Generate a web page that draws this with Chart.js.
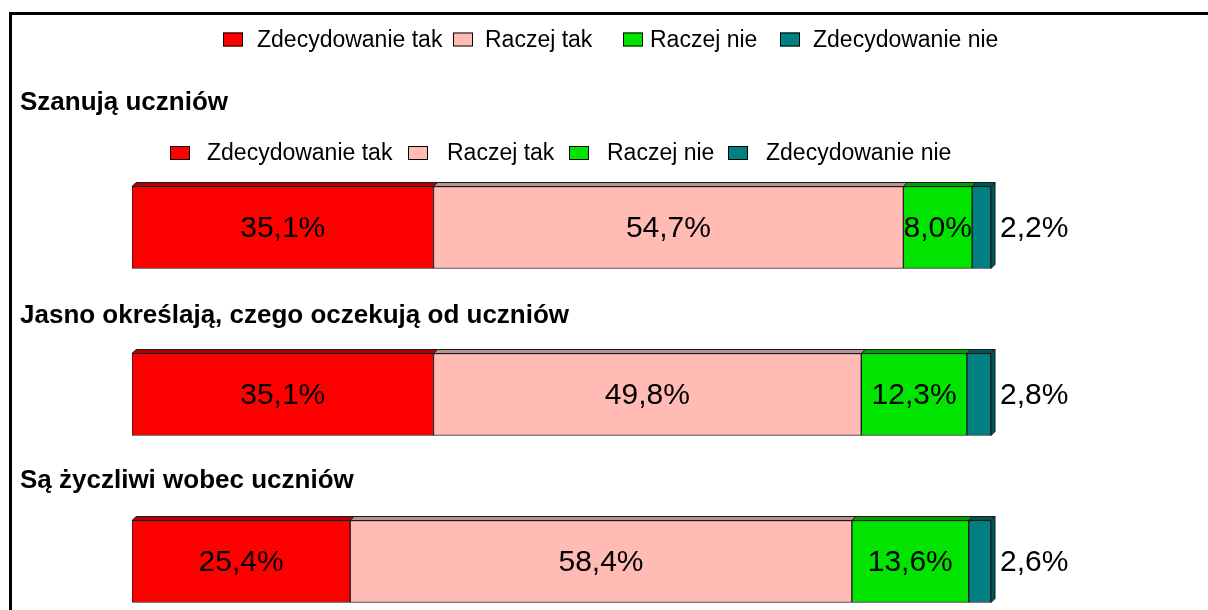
<!DOCTYPE html>
<html lang="pl">
<head>
<meta charset="utf-8">
<title>Nauczyciele</title>
<script src="https://cdn.jsdelivr.net/npm/chart.js@4.4.1/dist/chart.umd.min.js"></script>
<style>
  html, body { margin: 0; padding: 0; background: #fff; overflow: hidden; }
  #wrap { position: relative; width: 1208px; height: 610px; overflow: hidden; }
  #frame { position: absolute; left: 9px; top: 12px; right: -10px; bottom: -10px; border-top: 3px solid #000; border-left: 3px solid #000; pointer-events: none; }
  canvas { position: absolute; left: 0; top: 0; }
</style>
</head>
<body>
<div id="wrap">
  <canvas id="chart" width="1208" height="660"></canvas>
  <div id="frame"></div>
</div>
<script>
(function () {
  const statements = [
    'Szanują uczniów',
    'Jasno określają, czego oczekują od uczniów',
    'Są życzliwi wobec uczniów',
  ];
  const answers = ['Zdecydowanie tak', 'Raczej tak', 'Raczej nie', 'Zdecydowanie nie'];
  const zdecydowanieTak = [35.1, 35.1, 25.4];
  const raczejTak = [54.7, 49.8, 58.4];
  const raczejNie = [8.0, 12.3, 13.6];
  const zdecydowanieNie = [2.2, 2.8, 2.6];

  const FONT = '"Liberation Sans", Arial, Helvetica, sans-serif';
  const fills = ['#ff0000', '#ffbbb4', '#00e400', '#008080'];
  const topFaces = ['#b30000', '#b39591', '#00a000', '#005656'];
  const depth = 4;

  // legend / title placement
  const topLegend = { y: 39.5, boxX: [223, 453, 623, 780], textX: [257, 485, 650, 813] };
  const innerLegend = { y: 153, boxX: [170, 408, 569, 728], textX: [207, 447, 607, 766] };
  const titleY = [103, 316, 481];

  function drawLegend(ctx, spec) {
    ctx.font = `23px ${FONT}`;
    ctx.textBaseline = 'middle';
    ctx.textAlign = 'left';
    ctx.lineWidth = 1;
    answers.forEach((label, i) => {
      ctx.fillStyle = fills[i];
      ctx.fillRect(spec.boxX[i], spec.y - 7, 20, 14);
      ctx.strokeStyle = '#000';
      ctx.strokeRect(spec.boxX[i] + 0.5, spec.y - 6.5, 19, 13);
      ctx.fillStyle = '#000';
      ctx.fillText(label, spec.textX[i], spec.y + 1);
    });
  }

  const decorations = {
    id: 'decorations',
    beforeDraw(chart) {
      const ctx = chart.ctx;
      ctx.save();
      drawLegend(ctx, topLegend);
      drawLegend(ctx, innerLegend);
      ctx.font = `bold 26px ${FONT}`;
      ctx.fillStyle = '#000';
      ctx.textBaseline = 'middle';
      ctx.textAlign = 'left';
      chart.data.labels.forEach((label, i) => {
        ctx.fillText(label, 20, titleY[i]);
      });
      ctx.restore();
    },
    afterDatasetsDraw(chart) {
      const ctx = chart.ctx;
      const last = chart.data.datasets.length - 1;
      ctx.save();
      ctx.lineWidth = 1;
      ctx.strokeStyle = '#1a1a1a';
      chart.data.datasets.forEach((ds, i) => {
        chart.getDatasetMeta(i).data.forEach((bar) => {
          const top = bar.y - bar.height / 2;
          const bottom = bar.y + bar.height / 2;
          ctx.fillStyle = topFaces[i];
          ctx.beginPath();
          ctx.moveTo(bar.base, top);
          ctx.lineTo(bar.base + depth, top - depth);
          ctx.lineTo(bar.x + depth, top - depth);
          ctx.lineTo(bar.x, top);
          ctx.closePath();
          ctx.fill();
          ctx.stroke();
          if (i === last) {
            ctx.beginPath();
            ctx.moveTo(bar.x, top);
            ctx.lineTo(bar.x + depth, top - depth);
            ctx.lineTo(bar.x + depth, bottom - depth);
            ctx.lineTo(bar.x, bottom);
            ctx.closePath();
            ctx.fill();
            ctx.stroke();
          }
        });
      });

      ctx.font = `30px ${FONT}`;
      ctx.fillStyle = '#000';
      ctx.textBaseline = 'middle';
      chart.data.datasets.forEach((ds, i) => {
        chart.getDatasetMeta(i).data.forEach((bar, j) => {
          const text = ds.data[j].toFixed(1).replace('.', ',') + '%';
          if (i === last) {
            ctx.textAlign = 'left';
            ctx.fillText(text, bar.x + depth + 5, bar.y + 1);
          } else {
            ctx.textAlign = 'center';
            ctx.fillText(text, (bar.x + bar.base) / 2, bar.y + 1);
          }
        });
      });
      ctx.restore();
    },
  };

  const series = [zdecydowanieTak, raczejTak, raczejNie, zdecydowanieNie];

  new Chart(document.getElementById('chart'), {
    type: 'bar',
    data: {
      labels: statements,
      datasets: answers.map((name, i) => ({
        label: name,
        data: series[i],
        backgroundColor: fills[i],
        borderColor: '#1a1a1a',
        borderWidth: 1,
        borderSkipped: false,
        barThickness: 82,
      })),
    },
    options: {
      indexAxis: 'y',
      responsive: false,
      animation: false,
      layout: {
        padding: { left: 132, right: 217, top: 144, bottom: 15 },
      },
      plugins: {
        legend: { display: false },
        tooltip: { enabled: false },
      },
      scales: {
        x: { stacked: true, min: 0, max: 100, display: false },
        y: { stacked: true, display: false },
      },
    },
    plugins: [decorations],
  });
})();
</script>
</body>
</html>
